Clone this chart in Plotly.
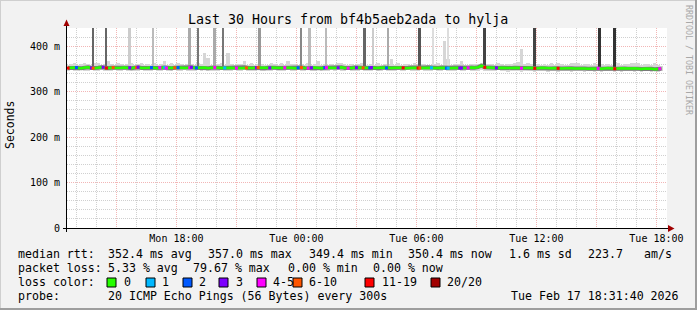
import numpy as np
import pandas as pd
import plotly.graph_objects as go

# ---------------- data ----------------
title = "Last 30 Hours from bf4b5aeb2ada to hylja"
x_start = "2026-02-16 12:31:40"
x_end = "2026-02-17 18:31:40"
first_step = "2026-02-16 12:35"

# median RTT in ms, one value per 10 minutes
median_ms = [
    351.8, 352.6, 353.1, 352.0, 351.5, 352.9,
    353.4, 352.2, 351.6, 352.8, 353.5, 352.1,
    351.9, 352.7, 353.0, 351.4, 352.3, 353.2,
    352.5, 351.7, 352.9, 353.6, 352.0, 351.8,
    352.4, 353.1, 352.2, 351.6, 352.8, 353.3,
    352.0, 351.5, 352.6, 353.0, 352.1, 351.9,
    352.7, 353.4, 352.3, 351.8, 352.5, 353.0,
    351.6, 352.4, 353.2, 352.6, 351.9, 352.2,
    353.1, 352.5, 351.7, 352.0, 352.8, 353.4,
    352.2, 351.8, 352.9, 353.1, 352.4, 351.6,
    352.3, 353.0, 352.6, 351.9, 352.1, 352.8,
    353.3, 352.4, 351.7, 352.5, 353.0, 352.2,
    351.8, 352.6, 353.2, 352.0, 351.5, 352.7,
    353.0, 352.3, 351.9, 352.6, 353.4, 352.1,
    351.6, 352.2, 352.9, 353.3, 352.4, 351.8,
    352.5, 353.1, 352.0, 351.7, 352.8, 353.0,
    352.2, 351.9, 352.6, 353.2, 352.3, 351.7,
    352.4, 353.0, 352.7, 351.9, 352.1, 352.9,
    353.5, 352.6, 351.8, 352.2, 353.0, 352.5,
    351.7, 352.3, 353.1, 352.8, 352.0, 351.6,
    352.5, 353.2, 352.4, 353.8, 357.0, 353.4,
    352.6, 353.1, 352.4, 351.8, 352.6, 352.0,
    351.5, 352.1, 352.8, 352.3, 351.6, 351.9,
    352.4, 351.8, 351.2, 351.7, 352.3, 351.5,
    350.9, 351.4, 352.0, 351.3, 350.8, 351.6,
    352.1, 351.5, 350.7, 351.2, 351.8, 351.0,
    350.6, 351.3, 351.9, 351.1, 350.5, 351.4,
    351.8, 351.0, 350.4, 350.9, 351.5, 350.8,
    350.2, 350.9, 351.4, 350.6, 349.9, 350.7,
    351.1, 350.3, 349.4, 350.1, 350.4,
]

# upper / lower edge of the ping "smoke" in ms
smoke_hi = [
    358, 360, 362, 359, 361, 363, 360, 358, 362, 363,
    359, 361, 368, 360, 358, 362, 361, 359, 360, 362,
    359, 361, 363, 359, 360, 358, 362, 358, 361, 368,
    359, 363, 358, 362, 360, 358, 361, 361, 358, 362,
    360, 385, 374, 359, 361, 360, 362, 358, 385, 360,
    359, 361, 360, 368, 359, 362, 359, 360, 361, 359,
    358, 362, 360, 358, 363, 359, 368, 360, 361, 359,
    360, 358, 362, 358, 360, 368, 359, 361, 359, 360,
    358, 362, 363, 360, 358, 361, 358, 360, 362, 358,
    359, 360, 358, 362, 358, 360, 361, 372, 359, 363,
    358, 361, 360, 358, 362, 358, 360, 361, 358, 359,
    360, 362, 359, 411, 372, 359, 361, 360, 368, 359,
    358, 361, 360, 361, 363, 362, 361, 360, 359, 363,
    360, 359, 361, 360, 362, 366, 394, 361, 363, 360,
    359, 361, 359, 360, 358, 363, 359, 362, 360, 359,
    358, 363, 363, 363, 359, 361, 360, 359, 362, 359,
    360, 358, 361, 358, 360, 362, 358, 361, 360, 364,
    364, 364, 359, 361, 360, 359, 362, 359, 357,
]
smoke_lo = [
    346, 347, 345, 346, 347, 346, 345, 347, 346, 345,
    347, 346, 345, 346, 347, 345, 346, 347, 346, 345,
    346, 345, 347, 346, 345, 346, 347, 345, 346, 347,
    345, 346, 347, 346, 345, 347, 346, 345, 346, 347,
    346, 347, 345, 346, 346, 345, 347, 346, 345, 346,
    347, 345, 346, 347, 346, 345, 346, 347, 345, 346,
    346, 345, 347, 346, 345, 346, 347, 346, 345, 347,
    345, 346, 347, 345, 346, 347, 346, 345, 346, 347,
    346, 347, 345, 346, 347, 346, 345, 346, 347, 345,
    346, 345, 347, 346, 345, 347, 346, 345, 346, 347,
    345, 346, 347, 346, 345, 346, 347, 345, 346, 346,
    347, 345, 346, 347, 346, 345, 346, 347, 346, 345,
    347, 346, 345, 346, 347, 346, 346, 345, 346, 347,
    346, 345, 344, 345, 346, 345, 344, 345, 346, 345,
    344, 345, 346, 345, 344, 345, 346, 344, 345, 346,
    345, 344, 345, 346, 345, 344, 345, 346, 344, 345,
    344, 345, 346, 345, 344, 345, 344, 345, 346, 345,
    344, 345, 344, 345, 346, 344, 345, 344, 345,
]

# packet loss events: time and number of lost pings (of 20)
loss_times = [
    "2026-02-16 12:35", "2026-02-16 13:00", "2026-02-16 13:45", "2026-02-16 13:50",
    "2026-02-16 14:20", "2026-02-16 14:30", "2026-02-16 14:50", "2026-02-16 15:40",
    "2026-02-16 16:00", "2026-02-16 16:05", "2026-02-16 16:45", "2026-02-16 17:10",
    "2026-02-16 17:25", "2026-02-16 17:30", "2026-02-16 17:55", "2026-02-16 18:05",
    "2026-02-16 18:40", "2026-02-16 18:45", "2026-02-16 19:00", "2026-02-16 19:55",
    "2026-02-16 20:25", "2026-02-16 21:00", "2026-02-16 21:30", "2026-02-16 22:00",
    "2026-02-16 22:05", "2026-02-16 22:40", "2026-02-16 23:25", "2026-02-17 00:05",
    "2026-02-17 00:15", "2026-02-17 00:35", "2026-02-17 00:45", "2026-02-17 01:25",
    "2026-02-17 01:30", "2026-02-17 02:05", "2026-02-17 02:35", "2026-02-17 03:00",
    "2026-02-17 03:20", "2026-02-17 03:40", "2026-02-17 03:45", "2026-02-17 04:30",
    "2026-02-17 05:20", "2026-02-17 06:05", "2026-02-17 06:10", "2026-02-17 06:45",
    "2026-02-17 07:30", "2026-02-17 07:35", "2026-02-17 08:10", "2026-02-17 08:15",
    "2026-02-17 08:35", "2026-02-17 09:25", "2026-02-17 10:00", "2026-02-17 11:15",
    "2026-02-17 11:55", "2026-02-17 13:05", "2026-02-17 15:05", "2026-02-17 15:55",
    "2026-02-17 18:10",
]
loss_counts = [
    15, 2, 3, 8, 3, 15, 8, 3, 8, 3, 2, 5, 1, 5, 8, 2,
    5, 3, 2, 5, 1, 5, 8, 3, 8, 3, 5, 2, 8, 5, 3, 2,
    5, 3, 5, 3, 8, 2, 3, 2, 15, 15, 8, 1, 2, 1, 3, 3,
    5, 15, 3, 5, 15, 15, 5, 15, 5,
]

# outlier pings far above the plotted range (number of pings in the streak)
spike_times = [
    "2026-02-16 13:50", "2026-02-16 14:30", "2026-02-16 15:40", "2026-02-16 16:50",
    "2026-02-16 18:40", "2026-02-16 19:05", "2026-02-16 19:55", "2026-02-16 20:20",
    "2026-02-16 22:10", "2026-02-17 00:15", "2026-02-17 00:40", "2026-02-17 01:30",
    "2026-02-17 03:25", "2026-02-17 03:50", "2026-02-17 04:35", "2026-02-17 06:10",
    "2026-02-17 06:50", "2026-02-17 07:35", "2026-02-17 09:25", "2026-02-17 11:55",
    "2026-02-17 15:10", "2026-02-17 15:55",
]
spike_level = [8, 8, 2, 3, 4, 7, 4, 7, 5, 6, 3, 3, 8, 2, 4, 9, 1, 1, 10, 10, 11, 11]
spike_max_ms = [1850, 2100, 980, 1200, 1400, 1700, 1300, 1750, 1500, 1600, 1100, 1150,
                1900, 950, 1350, 2200, 900, 920, 2400, 2500, 2800, 2900]

loss_labels = ["0", "1", "2", "3", "4-5", "6-10", "11-19", "20/20"]
loss_upper = [0, 1, 2, 3, 5, 10, 19, 20]
loss_colors = ["#26ff00", "#00b8ff", "#0059ff", "#7e00ff", "#ff00ff", "#ff5500", "#ff0000", "#a10000"]

x_tickvals = ["2026-02-16 15:00", "2026-02-16 18:00", "2026-02-16 21:00", "2026-02-17 00:00",
              "2026-02-17 03:00", "2026-02-17 06:00", "2026-02-17 09:00", "2026-02-17 12:00",
              "2026-02-17 15:00", "2026-02-17 18:00"]
x_ticktext = ["", "Mon 18:00", "", "Tue 00:00", "", "Tue 06:00", "", "Tue 12:00", "", "Tue 18:00"]
y_tickvals = [0, 100, 200, 300, 400]
y_ticktext = ["0", "100 m", "200 m", "300 m", "400 m"]

# legend rows: (text, left pixel) chunks, justified like rrdtool
row_rtt = [("median rtt:", 16), ("352.4 ms avg", 106), ("357.0 ms max", 206),
           ("349.4 ms min", 307), ("350.4 ms now", 406), ("1.6 ms sd", 506.5),
           ("223.7", 585.5), ("am/s", 642)]
row_loss = [("packet loss:", 16), ("5.33 % avg", 106), ("79.67 % max", 190.5),
            ("0.00 % min", 285.5), ("0.00 % now", 371.5)]
row_color = [("loss color:", 16)]
row_probe = [("probe:", 16), ("20 ICMP Echo Pings (56 Bytes) every 300s", 106)]
stamp = "Tue Feb 17 18:31:40 2026"
watermark = "RRDTOOL / TOBI OETIKER"
ylabel = "Seconds"

# ---------------- figure ----------------
W, H = 697, 310
L, R, T, B = 67, 30, 28, 82
PW, PH = W - L - R, H - T - B
FONT = "DejaVu Sans Mono"


def px(x):
    return (x - L) / PW


def py(y):
    return (T + PH - y) / PH


def nb(s):
    return s.replace(" ", "\u00a0")


times = pd.date_range(first_step, periods=len(median_ms), freq="10min")
med = np.array(median_ms)
lo = np.array(smoke_lo)
hi = np.array(smoke_hi)

fig = go.Figure()

# smoke
fig.add_trace(go.Bar(x=times, y=hi - lo, base=lo, width=600000,
                     marker=dict(color="#d6d6d6", line=dict(width=0)),
                     hoverinfo="skip", showlegend=False))

# spikes
st = pd.to_datetime(spike_times)
sidx = np.clip(np.rint((st - times[0]) / pd.Timedelta("10min")).astype(int), 0, len(med) - 1)
sbase = med[sidx]
sgray = [238 - 17 * v for v in spike_level]
scol = [f"rgb({g},{g},{g})" for g in sgray]
fig.add_trace(go.Bar(x=st, y=np.array(spike_max_ms) - sbase, base=sbase, width=330000,
                     marker=dict(color=scol, line=dict(width=0)),
                     hoverinfo="skip", showlegend=False))

# median line
fig.add_trace(go.Scatter(x=times, y=med, mode="lines",
                         line=dict(color="#7a7a7a", width=4),
                         hoverinfo="skip", showlegend=False))
fig.add_trace(go.Scatter(x=times, y=med, mode="lines",
                         line=dict(color=loss_colors[0], width=2.5),
                         hoverinfo="skip", showlegend=False))

# loss markers
lt = pd.to_datetime(loss_times)
lidx = np.clip(np.rint((lt - times[0]) / pd.Timedelta("10min")).astype(int), 0, len(med) - 1)
lcol = []
for c in loss_counts:
    k = next(i for i, u in enumerate(loss_upper) if c <= u)
    lcol.append(loss_colors[k])
fig.add_trace(go.Scatter(x=lt, y=med[lidx], mode="markers",
                         marker=dict(symbol="square", size=3, color=lcol, line=dict(width=0)),
                         hoverinfo="skip", showlegend=False))

grid_major = "#f2b6b6"
grid_minor = "#d0d0d0"

fig.update_layout(
    width=W, height=H,
    margin=dict(l=L, r=R, t=T, b=B, pad=0),
    paper_bgcolor="#f2f2f2", plot_bgcolor="#ffffff",
    barmode="overlay", bargap=0,
    font=dict(family=FONT, size=10, color="#000000"),
    xaxis=dict(type="date", range=[x_start, x_end], tickmode="array",
               tickvals=x_tickvals, ticktext=x_ticktext, ticks="",
               showgrid=True, gridcolor=grid_major, griddash="1px,1px", gridwidth=1,
               minor=dict(dtick=3600000, tick0="2026-02-16 00:00", showgrid=True,
                          gridcolor=grid_minor, griddash="1px,1px", gridwidth=1),
               showline=False, zeroline=False, tickfont=dict(size=10),
               ticklabelstandoff=3, fixedrange=True),
    yaxis=dict(range=[0, 440], tickmode="array", tickvals=y_tickvals, ticktext=y_ticktext,
               ticks="", showgrid=True, gridcolor=grid_major, griddash="1px,1px", gridwidth=1,
               minor=dict(dtick=20, tick0=0, showgrid=True, gridcolor=grid_minor,
                          griddash="1px,1px", gridwidth=1),
               showline=False, zeroline=False, tickfont=dict(size=10),
               ticklabelstandoff=6, fixedrange=True),
)

shapes = []
# frame
shapes.append(dict(type="line", xref="paper", yref="paper", x0=px(0.5), x1=px(W), y0=py(0.5), y1=py(0.5),
                   line=dict(color="#cfcfcf", width=1)))
shapes.append(dict(type="line", xref="paper", yref="paper", x0=px(0.5), x1=px(0.5), y0=py(0), y1=py(H),
                   line=dict(color="#cfcfcf", width=1)))
shapes.append(dict(type="line", xref="paper", yref="paper", x0=px(0), x1=px(W), y0=py(H - 1), y1=py(H - 1),
                   line=dict(color="#9e9e9e", width=2)))
shapes.append(dict(type="line", xref="paper", yref="paper", x0=px(W - 1), x1=px(W - 1), y0=py(0), y1=py(H),
                   line=dict(color="#9e9e9e", width=2)))
# axes
shapes.append(dict(type="line", xref="paper", yref="paper", x0=px(63), x1=px(670), y0=py(228.5), y1=py(228.5),
                   line=dict(color="#000000", width=1)))
shapes.append(dict(type="line", xref="paper", yref="paper", x0=px(66.5), x1=px(66.5), y0=py(232), y1=py(24),
                   line=dict(color="#000000", width=1)))
# arrows
shapes.append(dict(type="path", xref="paper", yref="paper",
                   path=f"M {px(63.5)},{py(26)} L {px(69.5)},{py(26)} L {px(66.5)},{py(19.5)} Z",
                   fillcolor="#a00000", line=dict(width=0)))
shapes.append(dict(type="path", xref="paper", yref="paper",
                   path=f"M {px(668)},{py(225)} L {px(668)},{py(232)} L {px(674.5)},{py(228.5)} Z",
                   fillcolor="#a00000", line=dict(width=0)))

# loss colour swatches
box_left = [107, 146, 183, 219, 257, 293, 365, 431]
label_left = [121.5, 160, 197, 234, 270.5, 307, 379.5, 444.5]
for bx, col in zip(box_left, loss_colors):
    shapes.append(dict(type="rect", xref="paper", yref="paper",
                       x0=px(bx), x1=px(bx + 9), y0=py(278), y1=py(287),
                       fillcolor=col, line=dict(color="#000000", width=1)))

fig.update_layout(shapes=shapes)

ann = []
ann.append(dict(text=nb(title), x=px(348), y=py(19), xref="paper", yref="paper",
                xanchor="center", yanchor="middle", showarrow=False,
                font=dict(family=FONT, size=13.3, color="#000000")))
ann.append(dict(text=ylabel, x=px(10), y=py(125), xref="paper", yref="paper",
                xanchor="center", yanchor="middle", showarrow=False, textangle=-90,
                font=dict(family=FONT, size=11.5, color="#000000")))
ann.append(dict(text=nb(watermark), x=px(689), y=py(60), xref="paper", yref="paper",
                xanchor="center", yanchor="middle", showarrow=False, textangle=90,
                font=dict(family=FONT, size=8.3, color="#a8a8a8")))
for row, yy in [(row_rtt, 254), (row_loss, 268), (row_color, 282), (row_probe, 296)]:
    for txt, xx in row:
        ann.append(dict(text=nb(txt), x=px(xx), y=py(yy), xref="paper", yref="paper",
                        xanchor="left", yanchor="middle", showarrow=False,
                        font=dict(family=FONT, size=11.6, color="#000000")))
for lx, lab in zip(label_left, loss_labels):
    ann.append(dict(text=nb(lab), x=px(lx), y=py(282), xref="paper", yref="paper",
                    xanchor="left", yanchor="middle", showarrow=False,
                    font=dict(family=FONT, size=11.6, color="#000000")))
ann.append(dict(text=nb(stamp), x=px(681), y=py(296), xref="paper", yref="paper",
                xanchor="right", yanchor="middle", showarrow=False,
                font=dict(family=FONT, size=11.6, color="#000000")))
fig.update_layout(annotations=ann)

fig.write_html("out.html")
